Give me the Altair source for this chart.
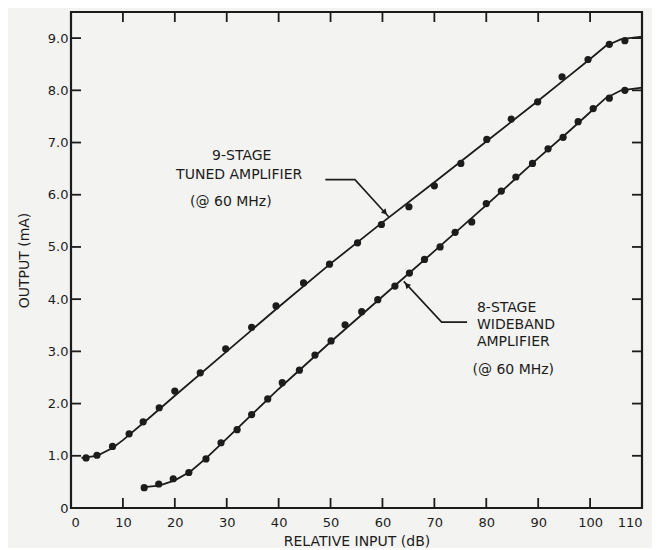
import altair as alt
import pandas as pd

# ---------------- data ----------------
tuned_x = [2.9, 5.0, 8.0, 11.2, 13.9, 17.0, 20.0, 24.9, 29.8, 34.8, 39.5, 44.8,
           49.8, 55.2, 59.8, 65.1, 70.0, 75.1, 80.1, 84.8, 89.9, 94.6, 99.6, 103.7, 106.7]
tuned_y = [0.96, 1.01, 1.18, 1.42, 1.65, 1.92, 2.24, 2.59, 3.05, 3.46, 3.87, 4.31,
           4.67, 5.08, 5.43, 5.77, 6.17, 6.60, 7.06, 7.45, 7.78, 8.26, 8.59, 8.88, 8.95]
tuned_fit_x = [2, 5, 8, 10, 15, 20, 30, 40, 50, 60, 70, 80, 90, 95, 100, 103, 106, 110]
tuned_fit_y = [0.96, 1.0, 1.15, 1.3, 1.72, 2.15, 3.0, 3.85, 4.68, 5.47, 6.24, 7.02, 7.80,
               8.2, 8.6, 8.85, 8.98, 9.03]

wide_x = [14.1, 16.9, 19.7, 22.7, 26.0, 28.9, 32.0, 34.8, 37.9, 40.7, 44.0, 47.0, 50.1,
          52.8, 56.0, 59.1, 62.4, 65.2, 68.1, 71.1, 74.0, 77.2, 80.0, 82.9, 85.7, 88.9,
          91.9, 94.8, 97.7, 100.6, 103.7, 106.7]
wide_y = [0.39, 0.46, 0.56, 0.68, 0.94, 1.25, 1.50, 1.79, 2.09, 2.40, 2.64, 2.93, 3.20,
          3.51, 3.76, 3.99, 4.25, 4.50, 4.76, 5.00, 5.28, 5.48, 5.83, 6.07, 6.34, 6.60,
          6.88, 7.10, 7.40, 7.65, 7.85, 8.00]
wide_fit_x = [14, 17, 20, 23, 26, 30, 40, 50, 60, 70, 80, 90, 96, 100, 103, 106, 110]
wide_fit_y = [0.40, 0.43, 0.53, 0.70, 0.95, 1.33, 2.28, 3.18, 4.05, 4.92, 5.80, 6.70,
              7.22, 7.58, 7.85, 8.0, 8.05]

x_ticks = [0, 10, 20, 30, 40, 50, 60, 70, 80, 90, 100, 110]
y_ticks = [0, 1, 2, 3, 4, 5, 6, 7, 8, 9]
x_inner_ticks = [10, 20, 30, 40, 50, 60, 70, 80, 90, 100]
y_inner_ticks = [1, 2, 3, 4, 5, 6, 7, 8, 9]

# annotations
label_text = ["9-STAGE", "TUNED AMPLIFIER", "(@ 60 MHz)"]
label_x = [32.9, 32.4, 30.8]
label_y = [6.74, 6.37, 5.86]
label2_text = ["8-STAGE", "WIDEBAND", "AMPLIFIER"]
label2_x = [78.2, 78.2, 78.2]
label2_y = [3.83, 3.50, 3.17]
label3_text = ["(@ 60 MHz)"]
label3_x = [85.2]
label3_y = [2.64]

leader_id = ["a", "a", "a", "b", "b", "b"]
leader_x = [49.0, 54.7, 61.2, 76.3, 71.4, 64.1]
leader_y = [6.29, 6.29, 5.58, 3.56, 3.56, 4.34]
arrow_x = [60.5, 64.7]
arrow_y = [5.66, 4.27]
arrow_angle = [137, 316]

INK = "#1c1c1c"
W, H = 571, 496
FONT = "DejaVu Sans"

xs = alt.Scale(domain=[0, 110], nice=False, zero=False)
ys = alt.Scale(domain=[0, 9.5], nice=False, zero=False)

X_AX = alt.Axis(
    values=x_ticks, title="RELATIVE INPUT (dB)", grid=False, ticks=False, domain=False,
    labelPadding=8, labelFontSize=13, labelFont=FONT, labelColor=INK,
    titleFont=FONT, titleFontSize=14, titleFontWeight="normal", titleColor=INK,
    titleX=W / 2, titleY=33, titleBaseline="middle", titleAlign="center",
    format="d")
Y_AX = alt.Axis(
    values=y_ticks, title="OUTPUT (mA)", grid=False, ticks=False, domain=False,
    labelPadding=3, labelFontSize=13, labelFont=FONT, labelColor=INK,
    labelExpr="datum.value == 0 ? '0' : format(datum.value, '.1f')",
    titleFont=FONT, titleFontSize=14, titleFontWeight="normal", titleColor=INK,
    titleX=-47, titleY=H / 2, titleAngle=270, titleAlign="center",
    titleBaseline="middle")


def X(f):
    return alt.X(f, scale=xs, axis=X_AX, title="RELATIVE INPUT (dB)")


def Y(f):
    return alt.Y(f, scale=ys, axis=Y_AX, title="OUTPUT (mA)")


fit_df = pd.DataFrame({
    "x": tuned_fit_x + wide_fit_x,
    "y": tuned_fit_y + wide_fit_y,
    "s": ["tuned"] * len(tuned_fit_x) + ["wide"] * len(wide_fit_x),
    "o": list(range(len(tuned_fit_x))) + list(range(len(wide_fit_x))),
})
pts_df = pd.DataFrame({"x": tuned_x + wide_x, "y": tuned_y + wide_y})

lines = alt.Chart(fit_df).mark_line(color=INK, strokeWidth=1.8).encode(
    x=X("x:Q"), y=Y("y:Q"), detail="s:N", order="o:Q")

pts = alt.Chart(pts_df).mark_circle(color=INK, opacity=1, size=52).encode(
    x=X("x:Q"), y=Y("y:Q"))

xt_df = pd.DataFrame({"x": x_inner_ticks})
yt_df = pd.DataFrame({"y": y_inner_ticks})
TL = 10
tick_bottom = alt.Chart(xt_df).mark_rule(color=INK, strokeWidth=1.8).encode(
    x=X("x:Q"), y=alt.value(H), y2=alt.value(H - TL))
tick_top = alt.Chart(xt_df).mark_rule(color=INK, strokeWidth=1.8).encode(
    x=X("x:Q"), y=alt.value(0), y2=alt.value(TL))
tick_left = alt.Chart(yt_df).mark_rule(color=INK, strokeWidth=1.8).encode(
    y=Y("y:Q"), x=alt.value(0), x2=alt.value(TL))
tick_right = alt.Chart(yt_df).mark_rule(color=INK, strokeWidth=1.8).encode(
    y=Y("y:Q"), x=alt.value(W), x2=alt.value(W - TL))

lead_df = pd.DataFrame({"id": leader_id, "x": leader_x, "y": leader_y,
                        "o": [0, 1, 2, 0, 1, 2]})
leaders = alt.Chart(lead_df).mark_line(color=INK, strokeWidth=1.6).encode(
    x=X("x:Q"), y=Y("y:Q"), detail="id:N", order="o:Q")

arr_df = pd.DataFrame({"x": arrow_x, "y": arrow_y, "a": arrow_angle})
arrows = alt.Chart(arr_df).mark_point(shape="triangle-up", filled=True, color=INK,
                                      opacity=1, size=40).encode(
    x=X("x:Q"), y=Y("y:Q"), angle=alt.Angle("a:Q", scale=None))

t1 = alt.Chart(pd.DataFrame({"x": label_x, "y": label_y, "t": label_text})).mark_text(
    font=FONT, fontSize=14, color=INK, align="center", baseline="middle").encode(
    x=X("x:Q"), y=Y("y:Q"), text="t:N")
t2 = alt.Chart(pd.DataFrame({"x": label2_x, "y": label2_y, "t": label2_text})).mark_text(
    font=FONT, fontSize=14, color=INK, align="left", baseline="middle").encode(
    x=X("x:Q"), y=Y("y:Q"), text="t:N")
t3 = alt.Chart(pd.DataFrame({"x": label3_x, "y": label3_y, "t": label3_text})).mark_text(
    font=FONT, fontSize=14, color=INK, align="center", baseline="middle").encode(
    x=X("x:Q"), y=Y("y:Q"), text="t:N")

chart = alt.layer(lines, pts, tick_bottom, tick_top, tick_left, tick_right,
                  leaders, arrows, t1, t2, t3).properties(
    width=W, height=H,
    padding={"left": 63, "top": 4, "right": 10, "bottom": 40},
    autosize=alt.AutoSizeParams(type="none"),
    background="#f3f3f1",
).configure_view(stroke=INK, strokeWidth=2.2)

chart.save("out.html", embed_options={"renderer": "svg", "actions": False})
